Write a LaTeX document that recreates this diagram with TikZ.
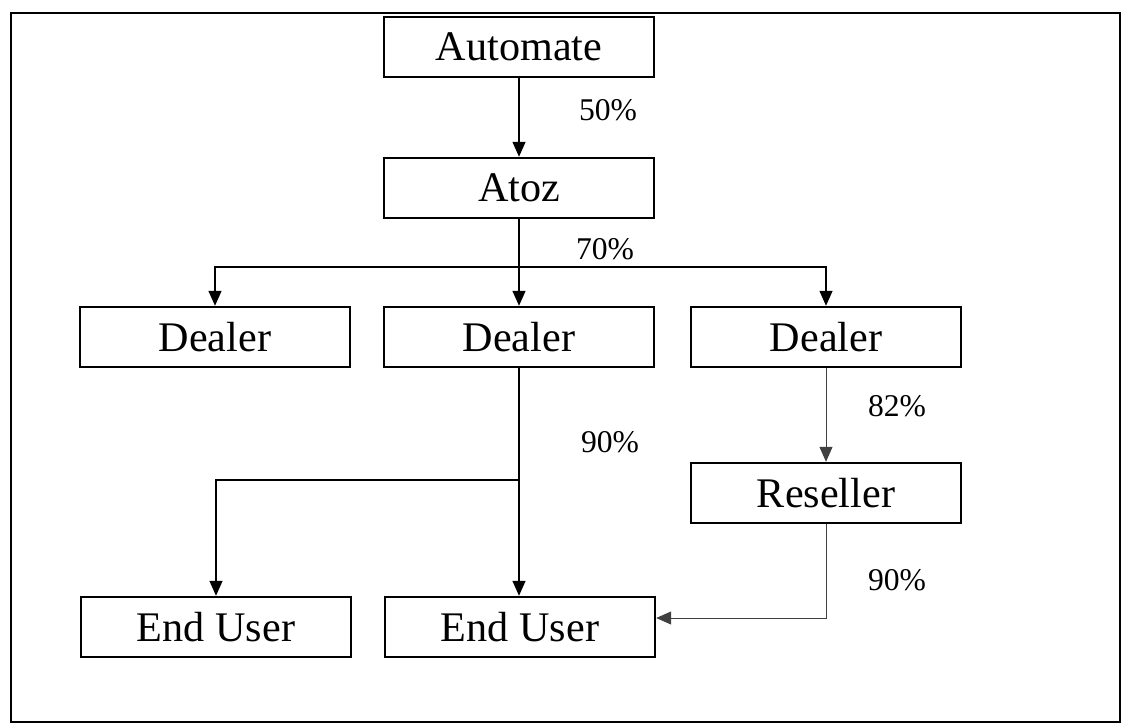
\documentclass[tikz,border=0pt]{standalone}
\usepackage{fontspec}
\setmainfont{Liberation Serif}
\usetikzlibrary{arrows.meta}

\begin{document}
\begin{tikzpicture}[x=0.02cm,y=-0.02cm,
  unit/.style={draw,fill=white,line width=1.4pt,minimum width=5.4cm,minimum height=1.2cm,inner sep=0pt,font=\fontsize{24}{28}\selectfont},
  share/.style={font=\fontsize{18}{22}\selectfont},
  link/.style={line width=0.8pt,-{Triangle[length=3mm,width=2.6mm]}},
  faint/.style={link,line width=0.5pt,draw=black!75}]
  \useasboundingbox (0,0) rectangle (1121,725);
  \draw[line width=1pt] (11,13) rectangle (1120,722);
  %
  \node[unit] (automate) at (519,47) {Automate};
  \node[unit] (atoz) at (519,188) {Atoz};
  \node[unit] (dealerA) at (215,337) {Dealer};
  \node[unit] (dealerB) at (519,337) {Dealer};
  \node[unit] (dealerC) at (826,337) {Dealer};
  \node[unit] (reseller) at (826,493) {Reseller};
  \node[unit] (userA) at (216,627) {End User};
  \node[unit] (userB) at (520,627) {End User};
  %
  \coordinate (split) at (519,267);
  \coordinate (fork) at (519,480);
  \coordinate (bend) at (826,618);
  \draw[link] (automate) -- (atoz);
  \draw[line width=0.8pt] (atoz) -- (split);
  \draw[link] (split) -| (dealerA);
  \draw[link] (split) -- (dealerB);
  \draw[link] (split) -| (dealerC);
  \draw[link] (dealerB) -- (dealerB |- userB.north);
  \draw[link] (fork) -| (userA);
  \draw[faint] (dealerC) -- (reseller);
  \draw[faint] (reseller) -- (bend) -- (bend -| userB.east);
  %
  \node[share] (pctA) at (608,110) {50\%};
  \node[share] (pctB) at (605,249) {70\%};
  \node[share] (pctC) at (897,406) {82\%};
  \node[share] (pctD) at (610,442) {90\%};
  \node[share] (pctE) at (897,580) {90\%};
\end{tikzpicture}
\end{document}
